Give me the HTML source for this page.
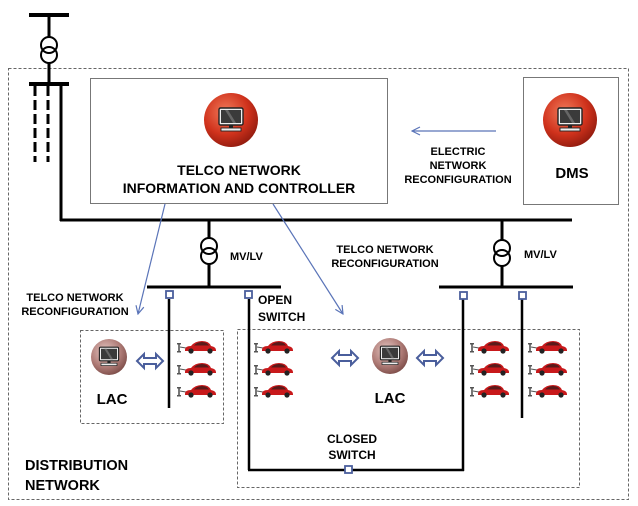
<!DOCTYPE html>
<html><head><meta charset="utf-8"><style>
html,body{margin:0;padding:0;background:#fff;}
svg{display:block;font-family:"Liberation Sans",Arial,sans-serif;font-weight:bold;}
</style></head><body>
<svg width="638" height="506" viewBox="0 0 638 506" xmlns="http://www.w3.org/2000/svg">
<defs>
<radialGradient id="red" cx="0.4" cy="0.35" r="0.7">
<stop offset="0" stop-color="#f07a5a"/><stop offset="0.6" stop-color="#d0321c"/><stop offset="1" stop-color="#8e1a0e"/>
</radialGradient>
<radialGradient id="pink" cx="0.4" cy="0.35" r="0.7">
<stop offset="0" stop-color="#e6c8c4"/><stop offset="0.6" stop-color="#b07d78"/><stop offset="1" stop-color="#7a4a46"/>
</radialGradient>
<g id="mon">
<rect x="-12" y="-11" width="24" height="17" rx="1.5" fill="#eee" stroke="#222" stroke-width="1.4"/>
<rect x="-10" y="-9" width="20" height="13" fill="#3a3a3a"/>
<path d="M-6,-9 L2,4 L5,4 L-3,-9 Z" fill="#666"/>
<rect x="-2" y="6" width="4" height="3" fill="#222"/>
<rect x="-10" y="9" width="20" height="3" fill="#eee" stroke="#222" stroke-width="0.9"/>
</g>
<g id="car">
<rect x="0" y="-4" width="2" height="9" fill="#777"/>
<rect x="-1" y="-4" width="4" height="1.5" fill="#555"/>
<rect x="-1" y="4" width="4" height="1.5" fill="#555"/>
<line x1="2" y1="0" x2="8" y2="1" stroke="#555" stroke-width="1"/>
<path d="M7,3 Q7,-1 13,-1 Q17,-6 24,-6 Q31,-6 33,-1 Q38,0 38,3 L38,4 L7,4 Z" fill="#c8191b"/>
<path d="M16,-1.5 Q19,-5 24,-5 Q29,-5 31,-1.5 Z" fill="#5a1a1a"/>
<circle cx="13" cy="4" r="2.6" fill="#222"/><circle cx="32" cy="4" r="2.6" fill="#222"/>
</g>
<g id="dbl">
<path d="M-13,0 L-6,-7 L-6,-3 L6,-3 L6,-7 L13,0 L6,7 L6,3 L-6,3 L-6,7 Z" fill="#fff" stroke="#4a5e9c" stroke-width="2" stroke-linejoin="miter"/>
</g>
<marker id="ah" markerWidth="10" markerHeight="10" refX="9" refY="5" orient="auto" markerUnits="userSpaceOnUse">
<path d="M1,1 L9,5 L1,9" fill="none" stroke="#5a74b8" stroke-width="1.2"/>
</marker>
</defs>

<rect x="8.5" y="68.5" width="620" height="431" fill="none" stroke="#666" stroke-width="1" stroke-dasharray="3,2"/>

<line x1="29" y1="15" x2="69" y2="15" stroke="#000" stroke-width="4"/>
<line x1="49" y1="15" x2="49" y2="37" stroke="#000" stroke-width="3"/>
<circle cx="49" cy="45" r="8" fill="none" stroke="#000" stroke-width="2"/>
<circle cx="49" cy="55" r="8" fill="none" stroke="#000" stroke-width="2"/>
<line x1="49" y1="63" x2="49" y2="84" stroke="#000" stroke-width="3"/>
<line x1="29" y1="84" x2="69" y2="84" stroke="#000" stroke-width="4"/>
<line x1="35" y1="86" x2="35" y2="162" stroke="#000" stroke-width="3" stroke-dasharray="10,4"/>
<line x1="48" y1="86" x2="48" y2="162" stroke="#000" stroke-width="3" stroke-dasharray="10,4"/>
<line x1="61" y1="84" x2="61" y2="221" stroke="#000" stroke-width="3"/>
<line x1="60" y1="220" x2="572" y2="220" stroke="#000" stroke-width="3"/>

<rect x="90.5" y="78.5" width="297" height="125" fill="#fff" stroke="#777" stroke-width="1"/>
<circle cx="231" cy="120" r="27" fill="url(#red)"/>
<use href="#mon" x="231" y="119"/>
<text x="239" y="175" font-size="14" text-anchor="middle">TELCO NETWORK</text>
<text x="239" y="193" font-size="14" text-anchor="middle">INFORMATION AND CONTROLLER</text>

<rect x="523.5" y="77.5" width="95" height="127" fill="#fff" stroke="#777" stroke-width="1"/>
<circle cx="570" cy="120" r="27" fill="url(#red)"/>
<use href="#mon" x="570" y="119"/>
<text x="572" y="178" font-size="15" text-anchor="middle">DMS</text>
<line x1="496" y1="131" x2="412" y2="131" stroke="#5a74b8" stroke-width="1.2" marker-end="url(#ah)"/>
<text x="458" y="155" font-size="11" text-anchor="middle">ELECTRIC</text>
<text x="458" y="169" font-size="11" text-anchor="middle">NETWORK</text>
<text x="458" y="183" font-size="11" text-anchor="middle">RECONFIGURATION</text>

<line x1="209" y1="220" x2="209" y2="239" stroke="#000" stroke-width="3"/>
<circle cx="209" cy="246" r="8" fill="none" stroke="#000" stroke-width="2"/>
<circle cx="209" cy="256" r="8" fill="none" stroke="#000" stroke-width="2"/>
<line x1="209" y1="264" x2="209" y2="287" stroke="#000" stroke-width="3"/>
<text x="230" y="260" font-size="11">MV/LV</text>
<line x1="147" y1="287" x2="281" y2="287" stroke="#000" stroke-width="3"/>

<line x1="502" y1="220" x2="502" y2="240" stroke="#000" stroke-width="3"/>
<circle cx="502" cy="248" r="8" fill="none" stroke="#000" stroke-width="2"/>
<circle cx="502" cy="258" r="8" fill="none" stroke="#000" stroke-width="2"/>
<line x1="502" y1="266" x2="502" y2="287" stroke="#000" stroke-width="3"/>
<text x="524" y="258" font-size="11">MV/LV</text>
<line x1="439" y1="287" x2="573" y2="287" stroke="#000" stroke-width="3"/>

<rect x="80.5" y="330.5" width="143" height="93" fill="none" stroke="#666" stroke-dasharray="3,2"/>
<rect x="237.5" y="329.5" width="342" height="158" fill="none" stroke="#666" stroke-dasharray="3,2"/>

<line x1="169" y1="299" x2="169" y2="408" stroke="#000" stroke-width="2.5"/>
<line x1="249" y1="299" x2="249" y2="470" stroke="#000" stroke-width="2.5"/>
<line x1="248" y1="470" x2="464" y2="470" stroke="#000" stroke-width="2.5"/>
<line x1="463" y1="299" x2="463" y2="471" stroke="#000" stroke-width="2.5"/>
<line x1="522" y1="299" x2="522" y2="418" stroke="#000" stroke-width="2.5"/>
<g fill="#fff" stroke="#4a5e9c" stroke-width="1.8">
<rect x="166" y="291" width="7" height="7"/>
<rect x="245" y="291" width="7" height="7"/>
<rect x="460" y="292" width="7" height="7"/>
<rect x="519" y="292" width="7" height="7"/>
<rect x="345" y="466" width="7" height="7"/>
</g>

<line x1="165" y1="204" x2="138" y2="314" stroke="#5a74b8" stroke-width="1.2" marker-end="url(#ah)"/>
<line x1="273" y1="204" x2="343" y2="314" stroke="#5a74b8" stroke-width="1.2" marker-end="url(#ah)"/>

<text x="75" y="301" font-size="11" text-anchor="middle">TELCO NETWORK</text>
<text x="75" y="315" font-size="11" text-anchor="middle">RECONFIGURATION</text>
<text x="385" y="253" font-size="11" text-anchor="middle">TELCO NETWORK</text>
<text x="385" y="267" font-size="11" text-anchor="middle">RECONFIGURATION</text>
<text x="258" y="304" font-size="12">OPEN</text>
<text x="258" y="321" font-size="12">SWITCH</text>
<text x="352" y="443" font-size="12" text-anchor="middle">CLOSED</text>
<text x="352" y="459" font-size="12" text-anchor="middle">SWITCH</text>
<text x="25" y="470" font-size="14.5">DISTRIBUTION</text>
<text x="25" y="490" font-size="14.5">NETWORK</text>

<circle cx="109" cy="357" r="18" fill="url(#pink)"/>
<use href="#mon" transform="translate(109,356) scale(0.8)"/>
<text x="112" y="404" font-size="15" text-anchor="middle">LAC</text>
<use href="#dbl" x="150" y="361"/>
<circle cx="390" cy="356" r="18" fill="url(#pink)"/>
<use href="#mon" transform="translate(390,355) scale(0.8)"/>
<text x="390" y="403" font-size="15" text-anchor="middle">LAC</text>
<use href="#dbl" x="345" y="358"/>
<use href="#dbl" x="430" y="358"/>

<use href="#car" x="178" y="347"/><use href="#car" x="178" y="369"/><use href="#car" x="178" y="391"/>
<use href="#car" x="255" y="347"/><use href="#car" x="255" y="369"/><use href="#car" x="255" y="391"/>
<use href="#car" x="471" y="347"/><use href="#car" x="471" y="369"/><use href="#car" x="471" y="391"/>
<use href="#car" x="529" y="347"/><use href="#car" x="529" y="369"/><use href="#car" x="529" y="391"/>
</svg>
</body></html>
